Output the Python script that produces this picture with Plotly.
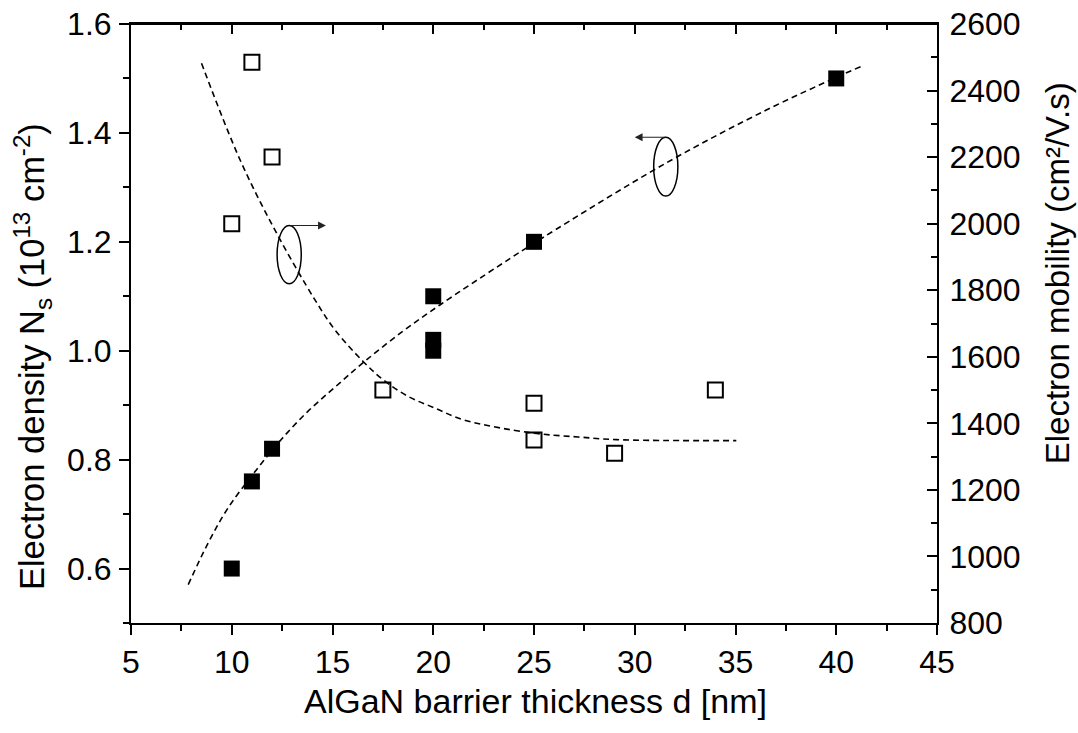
import plotly.graph_objects as go

# Electron density (filled squares, left axis)
d_ns = [10, 11, 12, 20, 20, 20, 25, 40]
ns = [0.60, 0.76, 0.82, 1.10, 1.02, 1.00, 1.20, 1.50]

# Electron mobility (open squares, right axis)
d_mu = [10, 11, 12, 17.5, 25, 25, 29, 34]
mu = [2000, 2485, 2200, 1500, 1460, 1350, 1310, 1500]

# Fit curves
fit_ns_x = [7.84, 8.83, 9.83, 11.24, 12.48, 13.79, 15.12, 16.52, 18.43, 20.33, 23.3, 25.45, 31.57, 36.53, 40.0, 41.29]
fit_ns_y = [0.5705, 0.647, 0.712, 0.782, 0.838, 0.889, 0.933, 0.978, 1.034, 1.084, 1.157, 1.208, 1.345, 1.442, 1.502, 1.523]

fit_mu_x = [8.5, 10.41, 12.23, 14.13, 15.12, 16.52, 17.51, 18.75, 20.08, 21.48, 24.79, 27.19, 29.1, 35.04]
fit_mu_y = [2482, 2192, 1971, 1771, 1681, 1586, 1531, 1481, 1446, 1411, 1372, 1359, 1351, 1348]

x_ticks = [5, 10, 15, 20, 25, 30, 35, 40, 45]
x_minor = [7.5, 12.5, 17.5, 22.5, 27.5, 32.5, 37.5, 42.5]
y_ticks = [0.6, 0.8, 1.0, 1.2, 1.4, 1.6]
y_ticktext = ["0.6", "0.8", "1.0", "1.2", "1.4", "1.6"]
y_minor = [0.5, 0.7, 0.9, 1.1, 1.3, 1.5]
y2_ticks = [800, 1000, 1200, 1400, 1600, 1800, 2000, 2200, 2400, 2600]
y2_minor = [900, 1100, 1300, 1500, 1700, 1900, 2100, 2300, 2500]

FONT = "Arial, Liberation Sans, sans-serif"
TICK = dict(family=FONT, size=32, color="black")

fig = go.Figure()
dash = "6px,4px"
fig.add_trace(go.Scatter(x=fit_ns_x, y=fit_ns_y, mode="lines", line=dict(color="black", width=1.6, dash=dash, shape="spline", smoothing=1.0), xaxis="x", yaxis="y", showlegend=False))
fig.add_trace(go.Scatter(x=fit_mu_x, y=fit_mu_y, mode="lines", line=dict(color="black", width=1.6, dash=dash, shape="spline", smoothing=1.0), xaxis="x", yaxis="y2", showlegend=False))
fig.add_trace(go.Scatter(x=d_ns, y=ns, mode="markers", marker=dict(symbol="square", size=16, color="black", line=dict(width=0)), xaxis="x", yaxis="y", showlegend=False))
fig.add_trace(go.Scatter(x=d_mu, y=mu, mode="markers", marker=dict(symbol="square-open", size=15, color="black", line=dict(width=2, color="black")), xaxis="x", yaxis="y2", showlegend=False))
# dummy trace so the mirrored top axis is drawn
fig.add_trace(go.Scatter(x=[None], y=[None], xaxis="x2", yaxis="y", showlegend=False, hoverinfo="skip"))

common = dict(showgrid=False, zeroline=False, showline=True, linewidth=2, linecolor="black",
              tickwidth=2, tickcolor="black", automargin=False)

fig.update_layout(
    width=1078, height=733,
    margin=dict(l=131, r=141, t=24, b=110),
    paper_bgcolor="white", plot_bgcolor="white",
    font=dict(family=FONT, color="black"),
    xaxis=dict(range=[5, 45], tickmode="array", tickvals=x_ticks, ticks="outside", ticklen=10,
               minor=dict(tickvals=x_minor, ticks="outside", ticklen=6, tickwidth=2, tickcolor="black"),
               tickfont=TICK, ticklabelstandoff=0, ticklabeloverflow="allow", **common),
    xaxis2=dict(range=[5, 45], overlaying="x", side="top", anchor="y", tickmode="array",
                tickvals=x_ticks, ticks="inside", ticklen=10,
                minor=dict(tickvals=x_minor, ticks="inside", ticklen=6, tickwidth=2, tickcolor="black"),
                showticklabels=False, **common),
    yaxis=dict(range=[0.5, 1.6], tickmode="array", tickvals=y_ticks, ticktext=y_ticktext,
               ticks="outside", ticklen=10,
               minor=dict(tickvals=y_minor, ticks="outside", ticklen=6, tickwidth=2, tickcolor="black"),
               tickfont=TICK, ticklabelstandoff=1, ticklabeloverflow="allow", **common),
    yaxis2=dict(range=[800, 2600], overlaying="y", side="right", anchor="x", tickmode="array",
                tickvals=y2_ticks, ticks="inside", ticklen=10,
                minor=dict(tickvals=y2_minor, ticks="inside", ticklen=6, tickwidth=2, tickcolor="black"),
                tickfont=TICK, ticklabelstandoff=4, ticklabeloverflow="allow", **common),
    shapes=[
        dict(type="line", xref="paper", yref="paper", x0=0, x1=1, y0=1, y1=1, line=dict(color="black", width=2)),
        dict(type="circle", xref="x", yref="y", x0=12.25, x1=13.45, y0=1.123, y1=1.230, line=dict(color="black", width=1.5)),
        dict(type="circle", xref="x", yref="y", x0=30.94, x1=32.14, y0=1.284, y1=1.392, line=dict(color="black", width=1.5)),
    ],
    annotations=[
        dict(x=14.67, y=1.230, ax=12.85, ay=1.230, xref="x", yref="y", axref="x", ayref="y", text="", showarrow=True,
             arrowhead=2, arrowsize=1.3, arrowwidth=1.2, arrowcolor="#222"),
        dict(x=30.0, y=1.392, ax=31.6, ay=1.392, xref="x", yref="y", axref="x", ayref="y", text="", showarrow=True,
             arrowhead=2, arrowsize=1.3, arrowwidth=1.2, arrowcolor="#222"),
        dict(text="AlGaN barrier thickness d [nm]", xref="paper", yref="paper", x=0.502, y=-0.13,
             xanchor="center", yanchor="middle", showarrow=False, font=dict(family=FONT, size=34, color="black")),
        dict(text="Electron density N<sub>s</sub> (10<sup>13</sup> cm<sup>-2</sup>)", xref="paper", yref="paper",
             x=-0.1228, y=0.444, xanchor="center", yanchor="middle", textangle=-90, showarrow=False,
             font=dict(family=FONT, size=34.5, color="black")),
        dict(text="Electron mobility (cm²/V.s)", xref="paper", yref="paper",
             x=1.149, y=0.584, xanchor="center", yanchor="middle", textangle=-90, showarrow=False,
             font=dict(family=FONT, size=33, color="black")),
    ],
)

fig.write_html("out.html", config={"displayModeBar": False},
               post_script="document.body.style.margin='0px';")
